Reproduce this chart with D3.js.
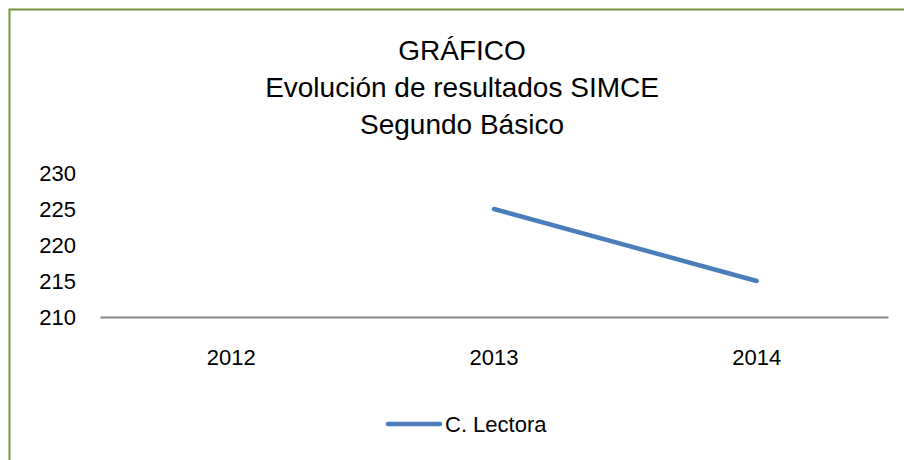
<!DOCTYPE html>
<html>
<head>
<meta charset="utf-8">
<script src="https://cdn.jsdelivr.net/npm/d3@7"></script>
<style>
  body { margin: 0; background: #fff; }
  text { font-family: "Liberation Sans Narrow", "Arial Narrow", sans-serif; fill: #000; }
</style>
</head>
<body>
<div id="chart"></div>
<script>
// chart data
var years = ["2012", "2013", "2014"];
var lectora = [null, 225, 215];
var yTicks = [210, 215, 220, 225, 230];
var titleLines = ["GRÁFICO", "Evolución de resultados SIMCE", "Segundo Básico"];
var seriesName = "C. Lectora";

var svgWidth = 904;
var svgHeight = 460;

var svg = d3.select("#chart")
    .append("svg")
    .attr("width", svgWidth)
    .attr("height", svgHeight);

// green frame (runs off the right/bottom edge)
svg.append("rect")
    .attr("x", 9.5)
    .attr("y", 9.5)
    .attr("width", 1000)
    .attr("height", 1000)
    .attr("fill", "none")
    .attr("stroke", "#77933C")
    .attr("stroke-width", 2);

// title
svg.append("g").selectAll("text")
    .data(titleLines)
    .enter()
    .append("text")
    .attr("x", 462)
    .attr("y", (d, i) => 60 + i * 37)
    .attr("text-anchor", "middle")
    .style("font-size", "28px")
    .text(d => d);

// scales
var xScale = d3.scaleBand()
    .domain(years)
    .range([100, 888]);

var yScale = d3.scaleLinear()
    .domain([210, 230])
    .range([317, 173]);

// y axis labels
var leftAxis = d3.axisLeft(yScale).tickValues(yTicks).tickSize(0).tickPadding(0);
var yAxisG = svg.append("g")
    .attr("transform", "translate(76, 0)")
    .call(leftAxis);
yAxisG.select(".domain").remove();
yAxisG.selectAll("text")
    .style("font-size", "22px")
    .style("font-family", "'Liberation Sans Narrow', 'Arial Narrow', sans-serif");

// x axis
var bottomAxis = d3.axisBottom(xScale).tickSize(0).tickPadding(0);
var xAxisG = svg.append("g")
    .attr("transform", "translate(0, 317)")
    .call(bottomAxis);
xAxisG.select(".domain")
    .attr("stroke", "#868686")
    .attr("stroke-width", 2);
xAxisG.selectAll("text")
    .attr("y", 40)
    .attr("dy", "0.35em")
    .style("font-size", "22px")
    .style("font-family", "'Liberation Sans Narrow', 'Arial Narrow', sans-serif");

// series line
var points = years.map((y, i) => ({ year: y, value: lectora[i] }));
var line = d3.line()
    .defined(d => d.value !== null)
    .x(d => xScale(d.year) + xScale.bandwidth() / 2)
    .y(d => yScale(d.value));

svg.append("path")
    .datum(points)
    .attr("d", line)
    .attr("fill", "none")
    .attr("stroke", "#4A7EBB")
    .attr("stroke-width", 4.5)
    .attr("stroke-linecap", "round");

// legend
var legend = svg.append("g").attr("transform", "translate(388, 424)");
legend.append("line")
    .attr("x1", 0)
    .attr("x2", 52)
    .attr("stroke", "#4A7EBB")
    .attr("stroke-width", 4.5)
    .attr("stroke-linecap", "round");
legend.append("text")
    .attr("x", 57)
    .attr("dy", "0.35em")
    .style("font-size", "22px")
    .text(seriesName);
</script>
</body>
</html>
